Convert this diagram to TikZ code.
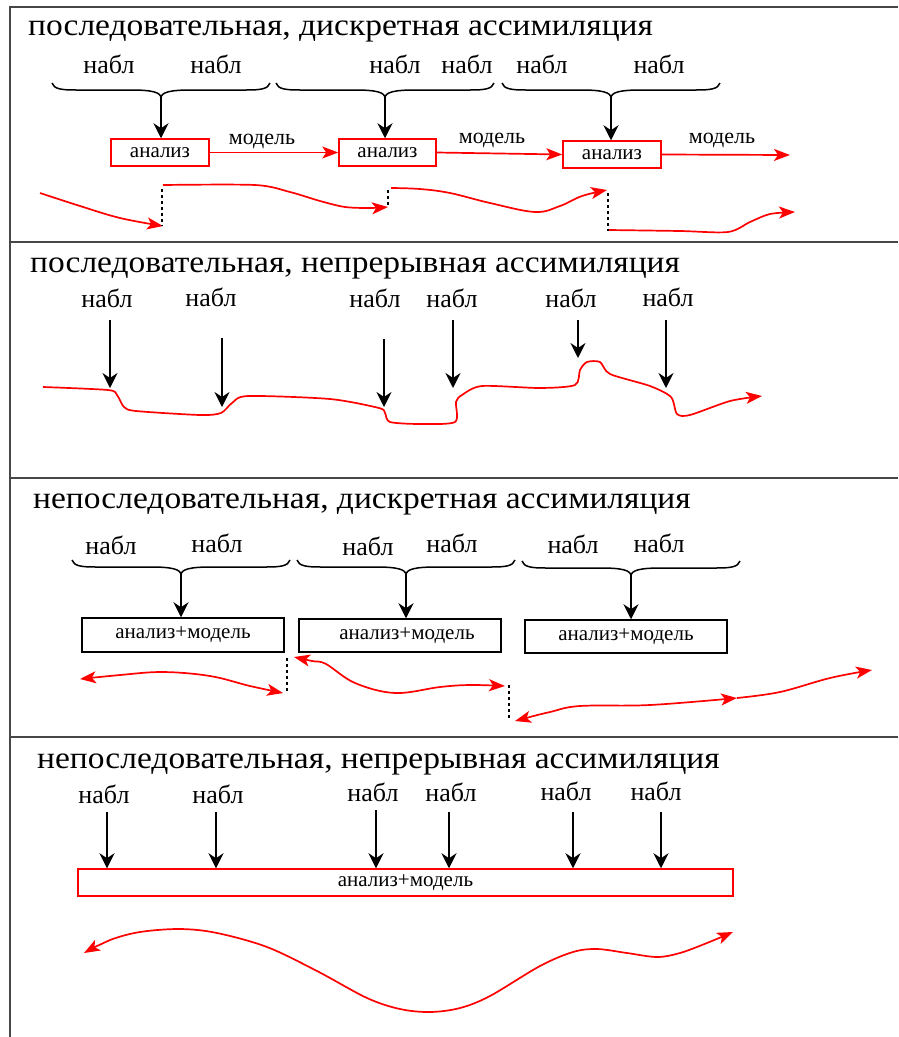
\documentclass[tikz,border=0pt]{standalone}
\usepackage{fontspec}
\setmainfont{Liberation Serif}
\newfontfamily\ttlfam[FakeStretch=1.08]{Liberation Serif}
\usetikzlibrary{arrows.meta}
\newcommand\ttlfont{\ttlfam\fontsize{31}{32}\selectfont}
\newcommand\obsfont{\fontsize{26}{28}\selectfont}
\newcommand\boxfont{\fontsize{21}{23}\selectfont}
\newcommand\mdlfont{\fontsize{22}{24}\selectfont}
\tikzset{
  frame/.style={line width=2.2pt, draw=black!72},
  ttl/.style={font=\ttlfont, inner sep=0pt, anchor=base west},
  obs/.style={font=\obsfont, inner sep=0pt, anchor=base},
  lbl/.style={font=\mdlfont, inner sep=0pt, anchor=base},
  blk/.style={line width=1.8pt, -{Stealth[length=15pt,width=15pt,inset=5pt]}},
  bracepen/.style={line width=1.5pt},
  redbox/.style={draw=red, line width=1.5pt, font=\boxfont, inner sep=0pt},
  blkbox/.style={draw=black, line width=1.5pt, font=\boxfont, inner sep=0pt},
  redline/.style={draw=red, line width=1.7pt},
  redarr/.style={redline, -{Stealth[length=16pt,width=12pt,inset=4pt]}},
  redbi/.style={redline, {Stealth[length=16pt,width=12pt,inset=4pt]}-{Stealth[length=16pt,width=12pt,inset=4pt]}},
  dsh/.style={line width=1.5pt, dash pattern=on 3pt off 3pt},
  brc/.pic={
    \draw[bracepen] (-109,-15) .. controls (-107,-9) and (-100,-8) .. (-85,-8) -- (-30,-8)
       .. controls (-10,-8) and (0,-6) .. (0,0)
       .. controls (0,-6) and (10,-8) .. (30,-8) -- (85,-8)
       .. controls (100,-8) and (107,-9) .. (109,-15);
    \coordinate (-tip) at (0,0);
  }
}
\begin{document}
\begin{tikzpicture}[x=1pt,y=-1pt]
\useasboundingbox (0,0) rectangle (898,1037);
% frame
\coordinate (fTL) at (10,7);
\coordinate (fTR) at (898,7);
\coordinate (fBL) at (10,1037);
\coordinate (d1L) at (10,242); \coordinate (d1R) at (898,242);
\coordinate (d2L) at (10,478); \coordinate (d2R) at (898,478);
\coordinate (d3L) at (10,737); \coordinate (d3R) at (898,737);
\draw[frame] (fTR) -- (fTL) -- (fBL);
\draw[frame] (d1L) -- (d1R);
\draw[frame] (d2L) -- (d2R);
\draw[frame] (d3L) -- (d3R);

% ===== Section 1 =====
\node[ttl] (t1) at (28,35) {последовательная, дискретная ассимиляция};
\node[obs] (o11) at (109,73) {набл};
\node[obs] (o12) at (216,73) {набл};
\node[obs] (o13) at (395,73) {набл};
\node[obs] (o14) at (467,73) {набл};
\node[obs] (o15) at (542,73) {набл};
\node[obs] (o16) at (659,73) {набл};
\pic (b11) at (161,98) {brc};
\pic (b12) at (385,98) {brc};
\pic (b13) at (611,98) {brc};
\node[redbox, minimum width=98pt, minimum height=27pt] (a11) at (160,152.5) {анализ};
\node[redbox, minimum width=97pt, minimum height=27pt] (a12) at (387.5,152.5) {анализ};
\node[redbox, minimum width=98pt, minimum height=27pt] (a13) at (612,154.5) {анализ};
\draw[blk] (b11-tip) -- (b11-tip |- a11.north);
\draw[blk] (b12-tip) -- (b12-tip |- a12.north);
\draw[blk] (b13-tip) -- (b13-tip |- a13.north);
\coordinate (m13end) at (790,155);
\draw[redarr] (a11.east) -- (a12.west);
\draw[redarr] (a12.east) -- (a13.west);
\draw[redarr] (a13.east) -- (m13end);
\node[lbl] (m11) at (262,144) {модель};
\node[lbl] (m12) at (492,143) {модель};
\node[lbl] (m13) at (722,143) {модель};
\draw[redarr] plot[smooth, tension=0.6] coordinates {(40,193) (80,206) (120,218) (163,226)};
\draw[dsh] (162,189) -- (162,226);
\draw[redarr] plot[smooth, tension=0.5] coordinates {(163,185) (255,185) (290,192) (320,201) (345,207) (370,208) (388,207)};
\draw[dsh] (388,190) -- (388,207);
\draw[redarr] plot[smooth, tension=0.6] coordinates {(391,188) (420,189) (450,193) (490,203) (535,212) (560,206) (582,196) (607,190)};
\draw[dsh] (608,193) -- (608,231);
\draw[redarr] plot[smooth, tension=0.5] coordinates {(609,230) (680,231) (728,232) (750,222) (770,214) (795,212)};

% ===== Section 2 =====
\node[ttl] (t2) at (30,272) {последовательная, непрерывная ассимиляция};
\node[obs] (o21) at (107,307) {набл};
\node[obs] (o22) at (211,306) {набл};
\node[obs] (o23) at (375,307) {набл};
\node[obs] (o24) at (452,307) {набл};
\node[obs] (o25) at (571,307) {набл};
\node[obs] (o26) at (668,306) {набл};
\coordinate (s21) at (110,320); \coordinate (e21) at (110,388);
\coordinate (s22) at (222,338); \coordinate (e22) at (222,407);
\coordinate (s23) at (384,339); \coordinate (e23) at (384,407);
\coordinate (s24) at (453,320); \coordinate (e24) at (453,388);
\coordinate (s25) at (578,320); \coordinate (e25) at (578,358);
\coordinate (s26) at (666,320); \coordinate (e26) at (666,388);
\foreach \i in {1,...,6} {\draw[blk] (s2\i) -- (e2\i);}
\draw[redarr] plot[smooth, tension=0.45] coordinates {(43,387) (108,390) (117,395) (124,407) (136,411) (200,415) (221,413) (232,403) (248,396) (330,399) (379,408) (385,413) (390,422) (420,424) (455,422) (456,402) (462,395) (482,386) (540,388) (575,385) (580,370) (587,362) (600,362) (610,374) (650,386) (671,397) (677,414) (690,415) (730,401) (762,396)};

% ===== Section 3 =====
\node[ttl] (t3) at (33,508) {непоследовательная, дискретная ассимиляция};
\node[obs] (o31) at (111,554) {набл};
\node[obs] (o32) at (217,552) {набл};
\node[obs] (o33) at (368,555) {набл};
\node[obs] (o34) at (452,552) {набл};
\node[obs] (o35) at (573,553) {набл};
\node[obs] (o36) at (659,552) {набл};
\pic (b31) at (181,575) {brc};
\pic (b32) at (406,575) {brc};
\pic (b33) at (631,576) {brc};
\node[blkbox, minimum width=202pt, minimum height=34pt] (a31) at (183,635) {анализ+модель};
\node[blkbox, minimum width=202pt, minimum height=33pt] (a32) at (400,635.5) {\hspace*{14pt}анализ+модель};
\node[blkbox, minimum width=202pt, minimum height=33pt] (a33) at (626,636.5) {анализ+модель};
\draw[blk] (b31-tip) -- (b31-tip |- a31.north);
\draw[blk] (b32-tip) -- (b32-tip |- a32.north);
\draw[blk] (b33-tip) -- (b33-tip |- a33.north);
\draw[redbi] plot[smooth, tension=0.6] coordinates {(80,679) (120,675) (163,672) (210,676) (250,686) (283,693)};
\draw[dsh] (287,658) -- (287,693);
\draw[redbi] plot[smooth, tension=0.6] coordinates {(294,657) (312,661) (326,664) (355,683) (395,693) (440,687) (470,685) (505,686)};
\draw[dsh] (509,685) -- (509,718);
\draw[redbi] plot[smooth, tension=0.6] coordinates {(515,721) (550,712) (580,706) (650,705) (737,698)};
\draw[redarr] plot[smooth, tension=0.6] coordinates {(737,698) (780,692) (830,678) (872,670)};

% ===== Section 4 =====
\node[ttl] (t4) at (37,768) {непоследовательная, непрерывная ассимиляция};
\node[obs] (o41) at (104,803) {набл};
\node[obs] (o42) at (218,803) {набл};
\node[obs] (o43) at (373,801) {набл};
\node[obs] (o44) at (451,801) {набл};
\node[obs] (o45) at (566,800) {набл};
\node[obs] (o46) at (656,800) {набл};
\node[redbox, minimum width=655pt, minimum height=27pt] (a41) at (405.5,882.5) {анализ+модель};
\coordinate (s41) at (107,812);
\coordinate (s42) at (216,812);
\coordinate (s43) at (376,810);
\coordinate (s44) at (449,812);
\coordinate (s45) at (573,812);
\coordinate (s46) at (661,812);
\foreach \i in {1,...,6} {\draw[blk] (s4\i) -- (s4\i |- a41.north);}
\draw[redbi] plot[smooth, tension=0.55] coordinates {(84,953) (110,940) (140,932) (180,929) (217,933) (267,947) (317,971) (367,998) (400,1009) (430,1012) (460,1008) (490,996) (540,966) (573,952) (597,949) (627,953) (657,957) (680,953) (707,943) (733,932)};
\end{tikzpicture}
\end{document}
